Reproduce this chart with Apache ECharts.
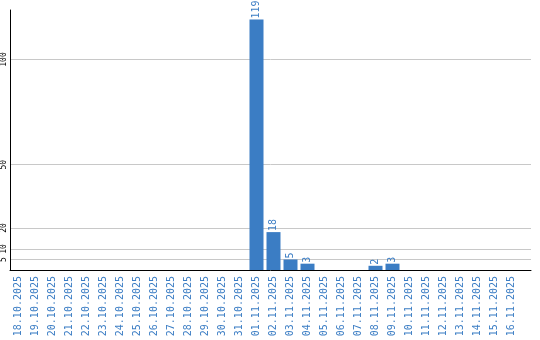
<!DOCTYPE html>
<html><head><meta charset="utf-8">
<script src="https://cdn.jsdelivr.net/npm/echarts@6/dist/echarts.min.js"></script>
<style>html,body{margin:0;padding:0;background:#fff}#c{width:540px;height:340px}</style>
</head><body><div id="c"></div>
<script>
const categories = ['18.10.2025','19.10.2025','20.10.2025','21.10.2025','22.10.2025','23.10.2025','24.10.2025','25.10.2025','26.10.2025','27.10.2025','28.10.2025','29.10.2025','30.10.2025','31.10.2025','01.11.2025','02.11.2025','03.11.2025','04.11.2025','05.11.2025','06.11.2025','07.11.2025','08.11.2025','09.11.2025','10.11.2025','11.11.2025','12.11.2025','13.11.2025','14.11.2025','15.11.2025','16.11.2025'];
const values = [0,0,0,0,0,0,0,0,0,0,0,0,0,0,119,18,5,3,0,0,0,2,3,0,0,0,0,0,0,0];
const yTicks = [5,10,20,50,100];
const yMax = 123.5;
const blue = '#3b7dc4';
const mono = 'DejaVu Sans Mono';
const chart = echarts.init(document.getElementById('c'));
chart.setOption({
  animation:false,
  grid:[
    {left:10,right:9,top:10,bottom:70},
    {left:10,width:510,top:10,bottom:70}
  ],
  xAxis:[
    {gridIndex:0,type:'value',min:0,max:1,axisLine:{show:true,onZero:false,lineStyle:{color:'#000',width:1}},axisTick:{show:false},axisLabel:{show:false},splitLine:{show:false}},
    {gridIndex:1,type:'category',data:categories,axisLine:{show:false},axisTick:{show:false},
     axisLabel:{interval:0,rotate:90,margin:6,color:blue,fontFamily:mono,fontSize:10}}
  ],
  yAxis:[
    {gridIndex:0,type:'value',min:0,max:yMax,
     axisLine:{show:true,lineStyle:{color:'#000',width:1}},
     axisTick:{show:false,customValues:yTicks},
     axisLabel:{customValues:yTicks,rotate:90,margin:2,color:'#000',fontFamily:mono,fontSize:8},
     splitLine:{show:true,lineStyle:{color:'#c8c8c8',width:1}}},
    {gridIndex:1,type:'value',min:0,max:yMax,show:false,splitLine:{show:false}}
  ],
  series:[{
    type:'bar',xAxisIndex:1,yAxisIndex:1,data:values,barWidth:14,
    itemStyle:{color:blue},
    label:{show:true,position:'top',rotate:90,align:'left',verticalAlign:'middle',distance:1,
      color:blue,fontFamily:mono,fontSize:10,formatter:p=>p.value?String(p.value):''}
  }]
});
</script></body></html>
